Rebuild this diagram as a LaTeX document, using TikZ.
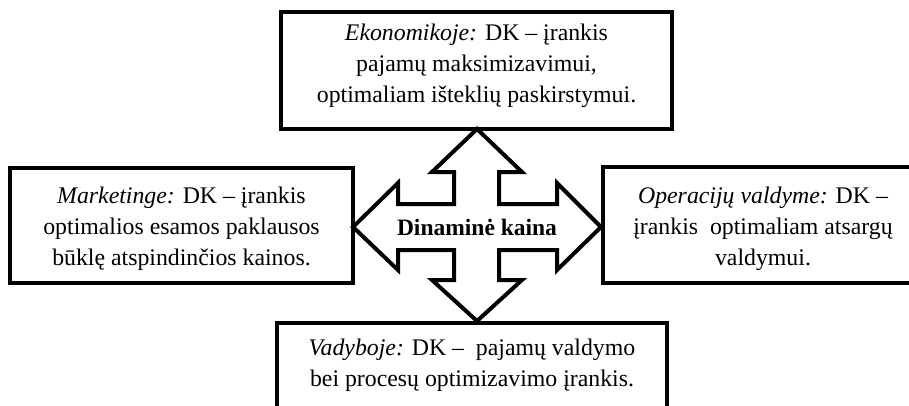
\documentclass[tikz,border=0pt]{standalone}
\usepackage{fontspec}
\setmainfont{Liberation Serif}
\usetikzlibrary{positioning}
\tikzset{every picture/.style={line width=4pt}}
\tikzset{sritis/.style={draw,line width=4pt,align=center,inner sep=0pt,font=\fontsize{23.8}{31}\selectfont}}

\begin{document}
\begin{tikzpicture}[x=1pt,y=-1pt]
    \clip (0,0) rectangle (909,405);
    \fill[white] (0,0) rectangle (909,405);
    \node[sritis,minimum width=391pt,minimum height=117pt] (ekon) at (476.5,70.5) {\textit{Ekonomikoje:} DK – įrankis\\ pajamų maksimizavimui,\\ optimaliam išteklių paskirstymui.\rule[-15pt]{0pt}{0pt}};
    \node[sritis,minimum width=343pt,minimum height=115pt] (mark) at (181.5,225.5) {\rule{0pt}{24pt}\textit{Marketinge:} DK – įrankis\\ optimalios esamos paklausos\\ būklę atspindinčios kainos.};
    \node[sritis,minimum width=320pt,minimum height=116pt] (oper) at (763,225) {\rule{0pt}{24pt}\textit{Operacijų valdyme:} DK –\\ įrankis\ \ optimaliam atsargų\\ valdymui.};
    \node[sritis,minimum width=390pt,minimum height=96pt] (vad) at (472,371) {\textit{Vadyboje:} DK –\ \ pajamų valdymo\\ bei procesų optimizavimo įrankis.\rule[-17pt]{0pt}{0pt}};
    % keturkryptė rodyklė
    \draw[line join=miter] (477,129) -- (522,172) -- (499,172) -- (499,204) -- (557,204) -- (557,183) -- (601,227)
        -- (557,270) -- (557,250) -- (499,250) -- (499,280) -- (522,280) -- (477,321) -- (432,280) -- (454,280)
        -- (454,250) -- (398,250) -- (398,270) -- (353,227) -- (398,183) -- (398,204) -- (454,204) -- (454,172)
        -- (432,172) -- cycle;
    \node[font=\fontsize{23.5}{28}\selectfont\bfseries] (kaina) at (477,227) {Dinaminė kaina};
\end{tikzpicture}
\end{document}
